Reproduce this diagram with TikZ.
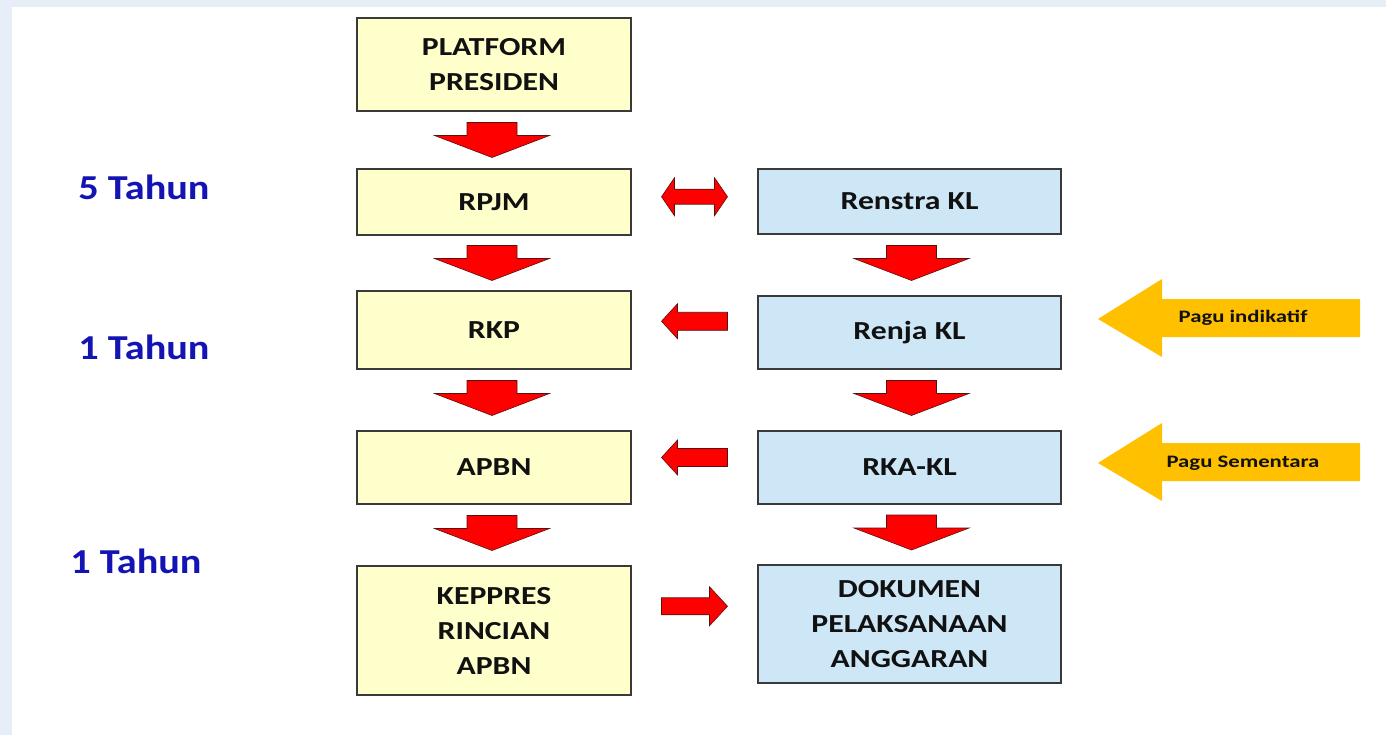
\documentclass[tikz,border=0pt]{standalone}
\usepackage{fontspec}
\setmainfont{Carlito}
\usetikzlibrary{calc}
\definecolor{ybox}{HTML}{FFFFCC}
\definecolor{bbox}{HTML}{CDE7F7}
\definecolor{edge}{HTML}{3A3A3A}
\definecolor{redarr}{HTML}{FF0000}
\definecolor{rededge}{HTML}{5A1010}
\definecolor{gold}{HTML}{FFC000}
\definecolor{lblue}{HTML}{1414B4}
\definecolor{bgstrip}{HTML}{E8EEF7}
\definecolor{txt}{HTML}{111111}
\newcommand{\sxa}[1]{\scalebox{1.22}[1]{#1}}
\newcommand{\sxb}[1]{\scalebox{1.15}[1]{#1}}
\newcommand{\sxc}[1]{\scalebox{1.3}[1]{#1}}
\tikzset{
  box/.style={draw=edge, line width=1.6pt, minimum width=#1, inner sep=0pt, align=center,
    font=\bfseries\fontsize{26}{35}\selectfont, text=txt},
  ybx/.style={box=274pt, fill=ybox},
  bbx/.style={box=303pt, fill=bbox},
  tlabel/.style={font=\bfseries\fontsize{35}{40}\selectfont, text=lblue},
  redfill/.style={fill=redarr, draw=rededge, line width=0.6pt, line join=miter},
  downarr/.pic={\path[redfill] (-25,-17.5) -- (25,-17.5) -- (25,-4.5) -- (57.5,-4.5) -- (0,17.5) -- (-57.5,-4.5) -- (-25,-4.5) -- cycle;},
  leftarr/.pic={\path[redfill] (-33,0) -- (-17,-17.5) -- (-17,-9) -- (33,-9) -- (33,9) -- (-17,9) -- (-17,17.5) -- cycle;},
  rightarr/.pic={\path[redfill] (33,0) -- (15,-19.5) -- (15,-8.5) -- (-33,-8.5) -- (-33,8.5) -- (15,8.5) -- (15,19.5) -- cycle;},
  dblarr/.pic={\path[redfill] (-33,0) -- (-20,-19) -- (-20,-7.5) -- (20,-7.5) -- (20,-19) -- (33,0) -- (20,19) -- (20,7.5) -- (-20,7.5) -- (-20,19) -- cycle;},
  goldarr/.pic={\fill[gold] (0,0) -- (64,-40) -- (64,-20) -- (262,-20) -- (262,18) -- (64,18) -- (64,38) -- cycle;},
  pagu/.style={font=\bfseries\fontsize{17.5}{20}\selectfont, text=txt}
}
\begin{document}
\begin{tikzpicture}[x=1pt,y=-1pt]
\useasboundingbox (0,0) rectangle (1386,735);
\fill[bgstrip] (0,0) rectangle (1386,735);
\fill[white] (12,7) rectangle (1386,735);

% left column
\node[ybx, minimum height=93pt] (pp) at (494,64.5) {\sxa{PLATFORM}\\\sxa{PRESIDEN}};
\node[ybx, minimum height=66pt] (rpjm) at (494,202) {\sxa{RPJM}};
\node[ybx, minimum height=78pt] (rkp) at (494,330) {\sxa{RKP}};
\node[ybx, minimum height=73pt] (apbn) at (494,467.5) {\sxa{APBN}};
\node[ybx, minimum height=129pt] (kep) at (494,630.5) {\sxa{KEPPRES}\\\sxa{RINCIAN}\\\sxa{APBN}};

% right column
\node[bbx, minimum height=65pt] (ren) at (909.5,201.5) {\sxa{Renstra KL}};
\node[bbx, minimum height=73pt] (renja) at (909.5,332.5) {\sxa{Renja KL}};
\node[bbx, minimum height=73pt] (rka) at (909.5,467.5) {\sxa{RKA-KL}};
\node[bbx, minimum height=118pt] (dok) at (909.5,624) {\sxa{DOKUMEN}\\\sxa{PELAKSANAAN}\\\sxa{ANGGARAN}};

% labels
\node[tlabel] (l5) at (144,187) {\sxb{5 Tahun}};
\node[tlabel] (l1a) at (144,347) {\sxb{1 Tahun}};
\node[tlabel] (l1b) at (136,561) {\sxb{1 Tahun}};

% down arrows
\pic at ($(pp.south)!0.5!(rpjm.north)+(-2,0)$) {downarr};
\pic at ($(rpjm.south)!0.5!(rkp.north)+(-2,0)$) {downarr};
\pic at ($(rkp.south)!0.5!(apbn.north)+(-2,-2)$) {downarr};
\pic at ($(apbn.south)!0.5!(kep.north)+(-2,-2)$) {downarr};
\pic at ($(ren.south)!0.5!(renja.north)+(2,-2)$) {downarr};
\pic at ($(renja.south)!0.5!(rka.north)+(2,-2)$) {downarr};
\pic at ($(rka.south)!0.5!(dok.north)+(2,-2)$) {downarr};

% horizontal arrows
\pic at ($(rpjm.east)!0.5!(ren.west)+(0,-5)$) {dblarr};
\pic at ($(rkp.east)!0.5!(renja.west)+(0,-10)$) {leftarr};
\pic at ($(apbn.east)!0.5!(rka.west)+(0,-10)$) {leftarr};
\pic at ($(kep.east)!0.5!(dok.west)+(0,-21)$) {rightarr};

% gold arrows
\coordinate (g1) at (1098,319);
\coordinate (g2) at (1098,463);
\pic at (g1) {goldarr};
\pic at (g2) {goldarr};
\node[pagu] (pi) at (1243,318) {\sxc{Pagu indikatif}};
\node[pagu] (ps) at (1243,463) {\sxc{Pagu Sementara}};
\end{tikzpicture}
\end{document}
